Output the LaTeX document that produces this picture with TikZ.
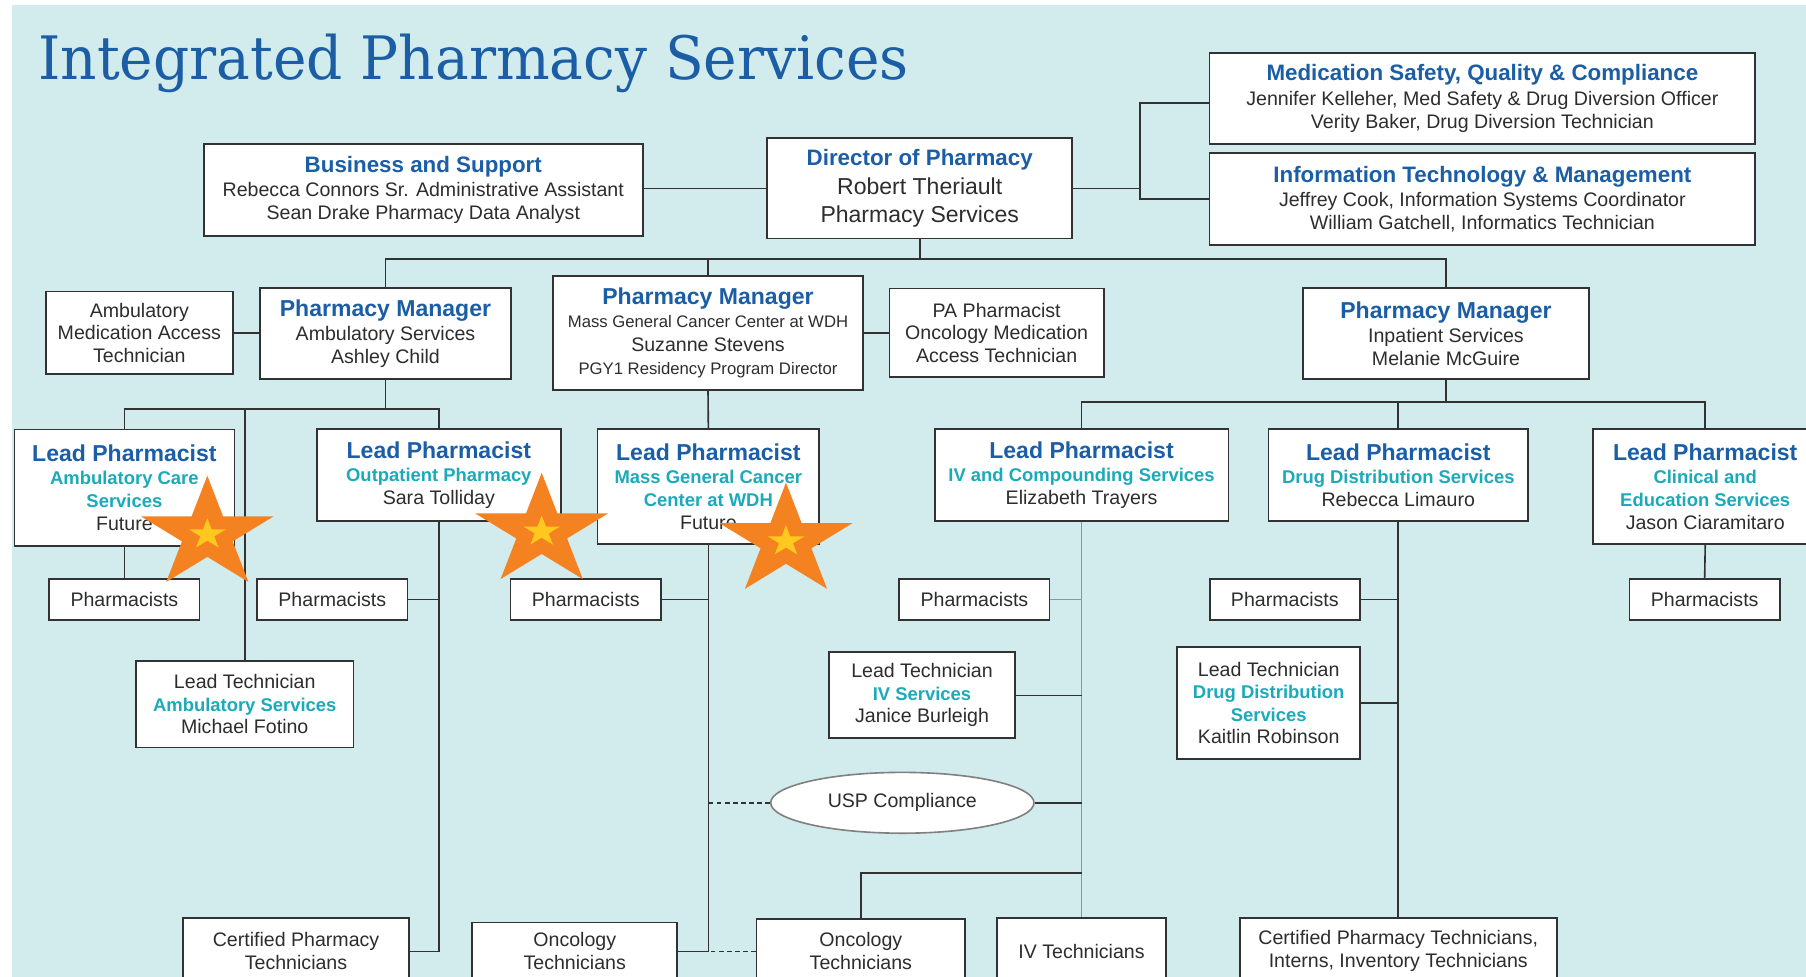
\documentclass[tikz,border=0pt]{standalone}
\usepackage{fontspec}
\setmainfont{Liberation Sans}
\newfontfamily\titlefont[FakeStretch=0.945]{DejaVu Serif}
\usetikzlibrary{shapes.geometric}

\definecolor{bgteal}{RGB}{210,235,236}
\definecolor{headblue}{RGB}{27,94,166}
\definecolor{subteal}{RGB}{26,170,186}
\definecolor{inkgray}{RGB}{45,45,45}
\definecolor{linegray}{RGB}{50,50,50}
\definecolor{ivgray}{RGB}{140,150,152}
\definecolor{starorange}{RGB}{245,130,32}
\definecolor{staryellow}{RGB}{255,200,30}

\newcommand\headtxt[1]{{\bfseries\fontsize{20}{24}\selectfont\color{headblue}#1}}
\newcommand\toptxt[1]{{\bfseries\fontsize{19.4}{23}\selectfont\color{headblue}#1}}
\newcommand\subtxt[1]{{\bfseries\fontsize{16}{19}\selectfont\color{subteal}#1}}
\newcommand\smalltxt[1]{{\fontsize{14.5}{17}\selectfont#1}}

\tikzset{
  box/.style 2 args={draw=linegray, fill=white, line width=1.5pt, align=center,
    inner sep=0pt, text=inkgray, font=\fontsize{17}{20}\selectfont,
    minimum width=#1, minimum height=#2},
  link/.style={draw=linegray, line width=1.4pt},
  ivlink/.style={draw=ivgray, line width=1.4pt},
  dashlink/.style={link, dash pattern=on 4pt off 3pt},
  bigstar/.style={star, star points=5, star point ratio=2.62, minimum size=102pt,
    inner sep=0pt, fill=starorange, transform shape},
  smallstar/.style={bigstar, minimum size=28pt, fill=staryellow}
}

\begin{document}
\begin{tikzpicture}[x=1pt, y=-1pt]
  \path[use as bounding box] (0,0) rectangle (1568,848);
  \clip (0,0) rectangle (1568,848);
  \fill[white] (0,0) rectangle (1568,848);
  \fill[bgteal] (10,4) rectangle (1568,848);

  \node[anchor=base west, inner sep=0pt, text=headblue,
    font=\titlefont\fontsize{52}{60}\selectfont] (title) at (33,69) {Integrated Pharmacy Services};

  % top row
  \node[box={381}{80}] (biz) at (367.5,165)
    {\toptxt{Business and Support}\\[1pt] Rebecca Connors Sr. Administrative Assistant\\ Sean Drake Pharmacy Data Analyst};
  \node[box={265}{87}, font=\fontsize{20}{24.5}\selectfont] (dir) at (798.5,163.5)
    {\toptxt{Director of Pharmacy}\\ Robert Theriault\\ Pharmacy Services};
  \node[box={474}{79}] (medsafe) at (1287,85.5)
    {\toptxt{Medication Safety, Quality \& Compliance}\\[1pt] Jennifer Kelleher, Med Safety \& Drug Diversion Officer\\ Verity Baker, Drug Diversion Technician};
  \node[box={474}{80}] (infotech) at (1287,173)
    {\toptxt{Information Technology \& Management}\\[1pt] Jeffrey Cook, Information Systems Coordinator\\ William Gatchell, Informatics Technician};

  \coordinate (hub) at (990,163.5);
  \draw[link] (dir.west -| biz.east) -- (dir.west);
  \draw[link] (dir.east) -- (hub);
  \draw[link] ([yshift=-4pt]medsafe.west) -| (hub) |- (infotech.west);

  % managers
  \coordinate (topbus) at (798.5,225);
  \node[box={162}{72}, font=\fontsize{17}{19.5}\selectfont] (ambtech) at (121,289)
    {Ambulatory\\ Medication Access\\ Technician};
  \node[box={218}{79}] (mgramb) at (334.7,289.7)
    {\headtxt{Pharmacy Manager}\\[1pt] Ambulatory Services\\ Ashley Child};
  \node[box={269.5}{99}] (mgrcancer) at (614.7,289)
    {\headtxt{Pharmacy Manager}\\ \smalltxt{Mass General Cancer Center at WDH}\\ Suzanne Stevens\\ \smalltxt{PGY1 Residency Program Director}};
  \node[box={186}{77}, font=\fontsize{17}{19.5}\selectfont] (paphar) at (865.3,289)
    {PA Pharmacist\\ Oncology Medication\\ Access Technician};
  \node[box={248}{79}] (mgrinpt) at (1255.4,289.8)
    {\headtxt{Pharmacy Manager}\\[1pt] Inpatient Services\\ Melanie McGuire};

  \draw[link] (dir.south) -- (topbus);
  \draw[link] (mgramb.north) |- (mgrinpt.north |- topbus) -- (mgrinpt.north);
  \draw[link] (mgrcancer.north) -- (mgrcancer.north |- topbus);
  \draw[link] (ambtech.east) -- (ambtech.east -| mgramb.west);
  \draw[link] (mgrcancer.east) -- (mgrcancer.east -| paphar.west);

  % lead pharmacists
  \node[box={191}{101}] (leadamb) at (108,423.3)
    {\headtxt{Lead Pharmacist}\\ \subtxt{Ambulatory Care}\\ \subtxt{Services}\\ Future};
  \node[box={212}{79.5}] (leadout) at (381,412.4)
    {\headtxt{Lead Pharmacist}\\ \subtxt{Outpatient Pharmacy}\\ Sara Tolliday};
  \node[box={192.6}{100}] (leadcancer) at (615,422.6)
    {\headtxt{Lead Pharmacist}\\ \subtxt{Mass General Cancer}\\ \subtxt{Center at WDH}\\ Future};
  \node[box={255}{79.3}] (leadiv) at (939,412.4)
    {\headtxt{Lead Pharmacist}\\ \subtxt{IV and Compounding Services}\\ Elizabeth Trayers};
  \node[box={225.6}{79.3}] (leaddrug) at (1214,412.4)
    {\headtxt{Lead Pharmacist}\\ \subtxt{Drug Distribution Services}\\ Rebecca Limauro};
  \node[box={194.6}{100}] (leadclin) at (1480.5,422.6)
    {\headtxt{Lead Pharmacist}\\ \subtxt{Clinical and}\\ \subtxt{Education Services}\\ Jason Ciaramitaro};

  \coordinate (ambbus) at (334.7,355);
  \coordinate (inbus) at (1255.4,349);
  \draw[link] (mgramb.south) -- (ambbus);
  \draw[link] (leadamb.north) |- (leadout.north |- ambbus) -- (leadout.north);
  \draw[link] (mgrcancer.south) -- (leadcancer.north);
  \draw[link] (mgrinpt.south) -- (inbus);
  \draw[link] (leadiv.north) |- (leadclin.north |- inbus) -- (leadclin.north);
  \draw[link] (leaddrug.north) -- (leaddrug.north |- inbus);

  % pharmacists
  \foreach \nm/\cx in {phamb/108, phout/288.5, phcancer/508.5, phiv/846, phdrug/1115.5, phclin/1480}
    \node[box={130.5}{35}] (\nm) at (\cx,520.5) {Pharmacists};

  % lead technicians
  \node[box={189}{75.4}, font=\fontsize{17}{19.5}\selectfont] (techamb) at (212.5,611.3)
    {Lead Technician\\ \subtxt{Ambulatory Services}\\ Michael Fotino};
  \node[box={162}{74.7}, font=\fontsize{17}{19.5}\selectfont] (techiv) at (800.5,603.7)
    {Lead Technician\\ \subtxt{IV Services}\\ Janice Burleigh};
  \node[box={159}{97}, font=\fontsize{17}{19.5}\selectfont] (techdrug) at (1101.5,610.5)
    {Lead Technician\\ \subtxt{Drug Distribution}\\ \subtxt{Services}\\ Kaitlin Robinson};
  \node[ellipse, draw=gray, fill=white, line width=1.4pt, inner sep=0pt, text=inkgray,
    font=\fontsize{17}{20}\selectfont, minimum width=228.6, minimum height=52.8] (usp) at (783.4,697) {USP Compliance};

  % bottom row
  \node[box={196}{58}] (certamb) at (257,826) {Certified Pharmacy\\ Technicians};
  \node[box={178}{50}] (onctech1) at (499,826) {Oncology\\ Technicians};
  \node[box={181}{56}] (onctech2) at (747.4,826) {Oncology\\ Technicians};
  \node[box={147}{58}] (ivtech) at (939,826) {IV Technicians};
  \node[box={275}{58}] (certdrug) at (1214,826) {Certified Pharmacy Technicians,\\ Interns, Inventory Technicians};

  \draw[link] (leadamb.south) -- (phamb.north);
  \draw[link] (techamb.north) -- (techamb.north |- ambbus);
  \draw[link] (leadout.south) |- (certamb.east);
  \draw[link] (phout.east) -- (phout.east -| leadout.south);
  \draw[link] (leadcancer.south) |- (onctech1.east);
  \draw[link] (phcancer.east) -- (phcancer.east -| leadcancer.south);
  \draw[dashlink] (usp.west) -- (usp.west -| leadcancer.south);
  \draw[dashlink] (onctech2.west) -- (onctech2.west -| leadcancer.south);
  \draw[ivlink] (leadiv.south) -- (ivtech.north);
  \draw[ivlink] (phiv.east) -- (phiv.east -| leadiv.south);
  \draw[link] (techiv.east) -- (techiv.east -| leadiv.south);
  \draw[link] (usp.east) -- (usp.east -| leadiv.south);
  \coordinate (oncjoin) at (939,757.7);
  \draw[link] (onctech2.north) |- (oncjoin);
  \draw[link] (leaddrug.south) -- (certdrug.north);
  \draw[link] (phdrug.east) -- (phdrug.east -| leaddrug.south);
  \draw[link] (techdrug.east) -- (techdrug.east -| leaddrug.south);
  \draw[link] (leadclin.south) -- (phclin.north);

  % stars
  \foreach \sx/\sy/\sn in {180/464/1, 470.3/461.5/2, 682.4/470/3} {
    \begin{scope}[shift={(\sx,\sy)}, xscale=1.19]
      \node[bigstar] (star\sn) at (0,0) {};
      \node[smallstar] (spark\sn) at (0,0) {};
    \end{scope}
  }
\end{tikzpicture}
\end{document}
